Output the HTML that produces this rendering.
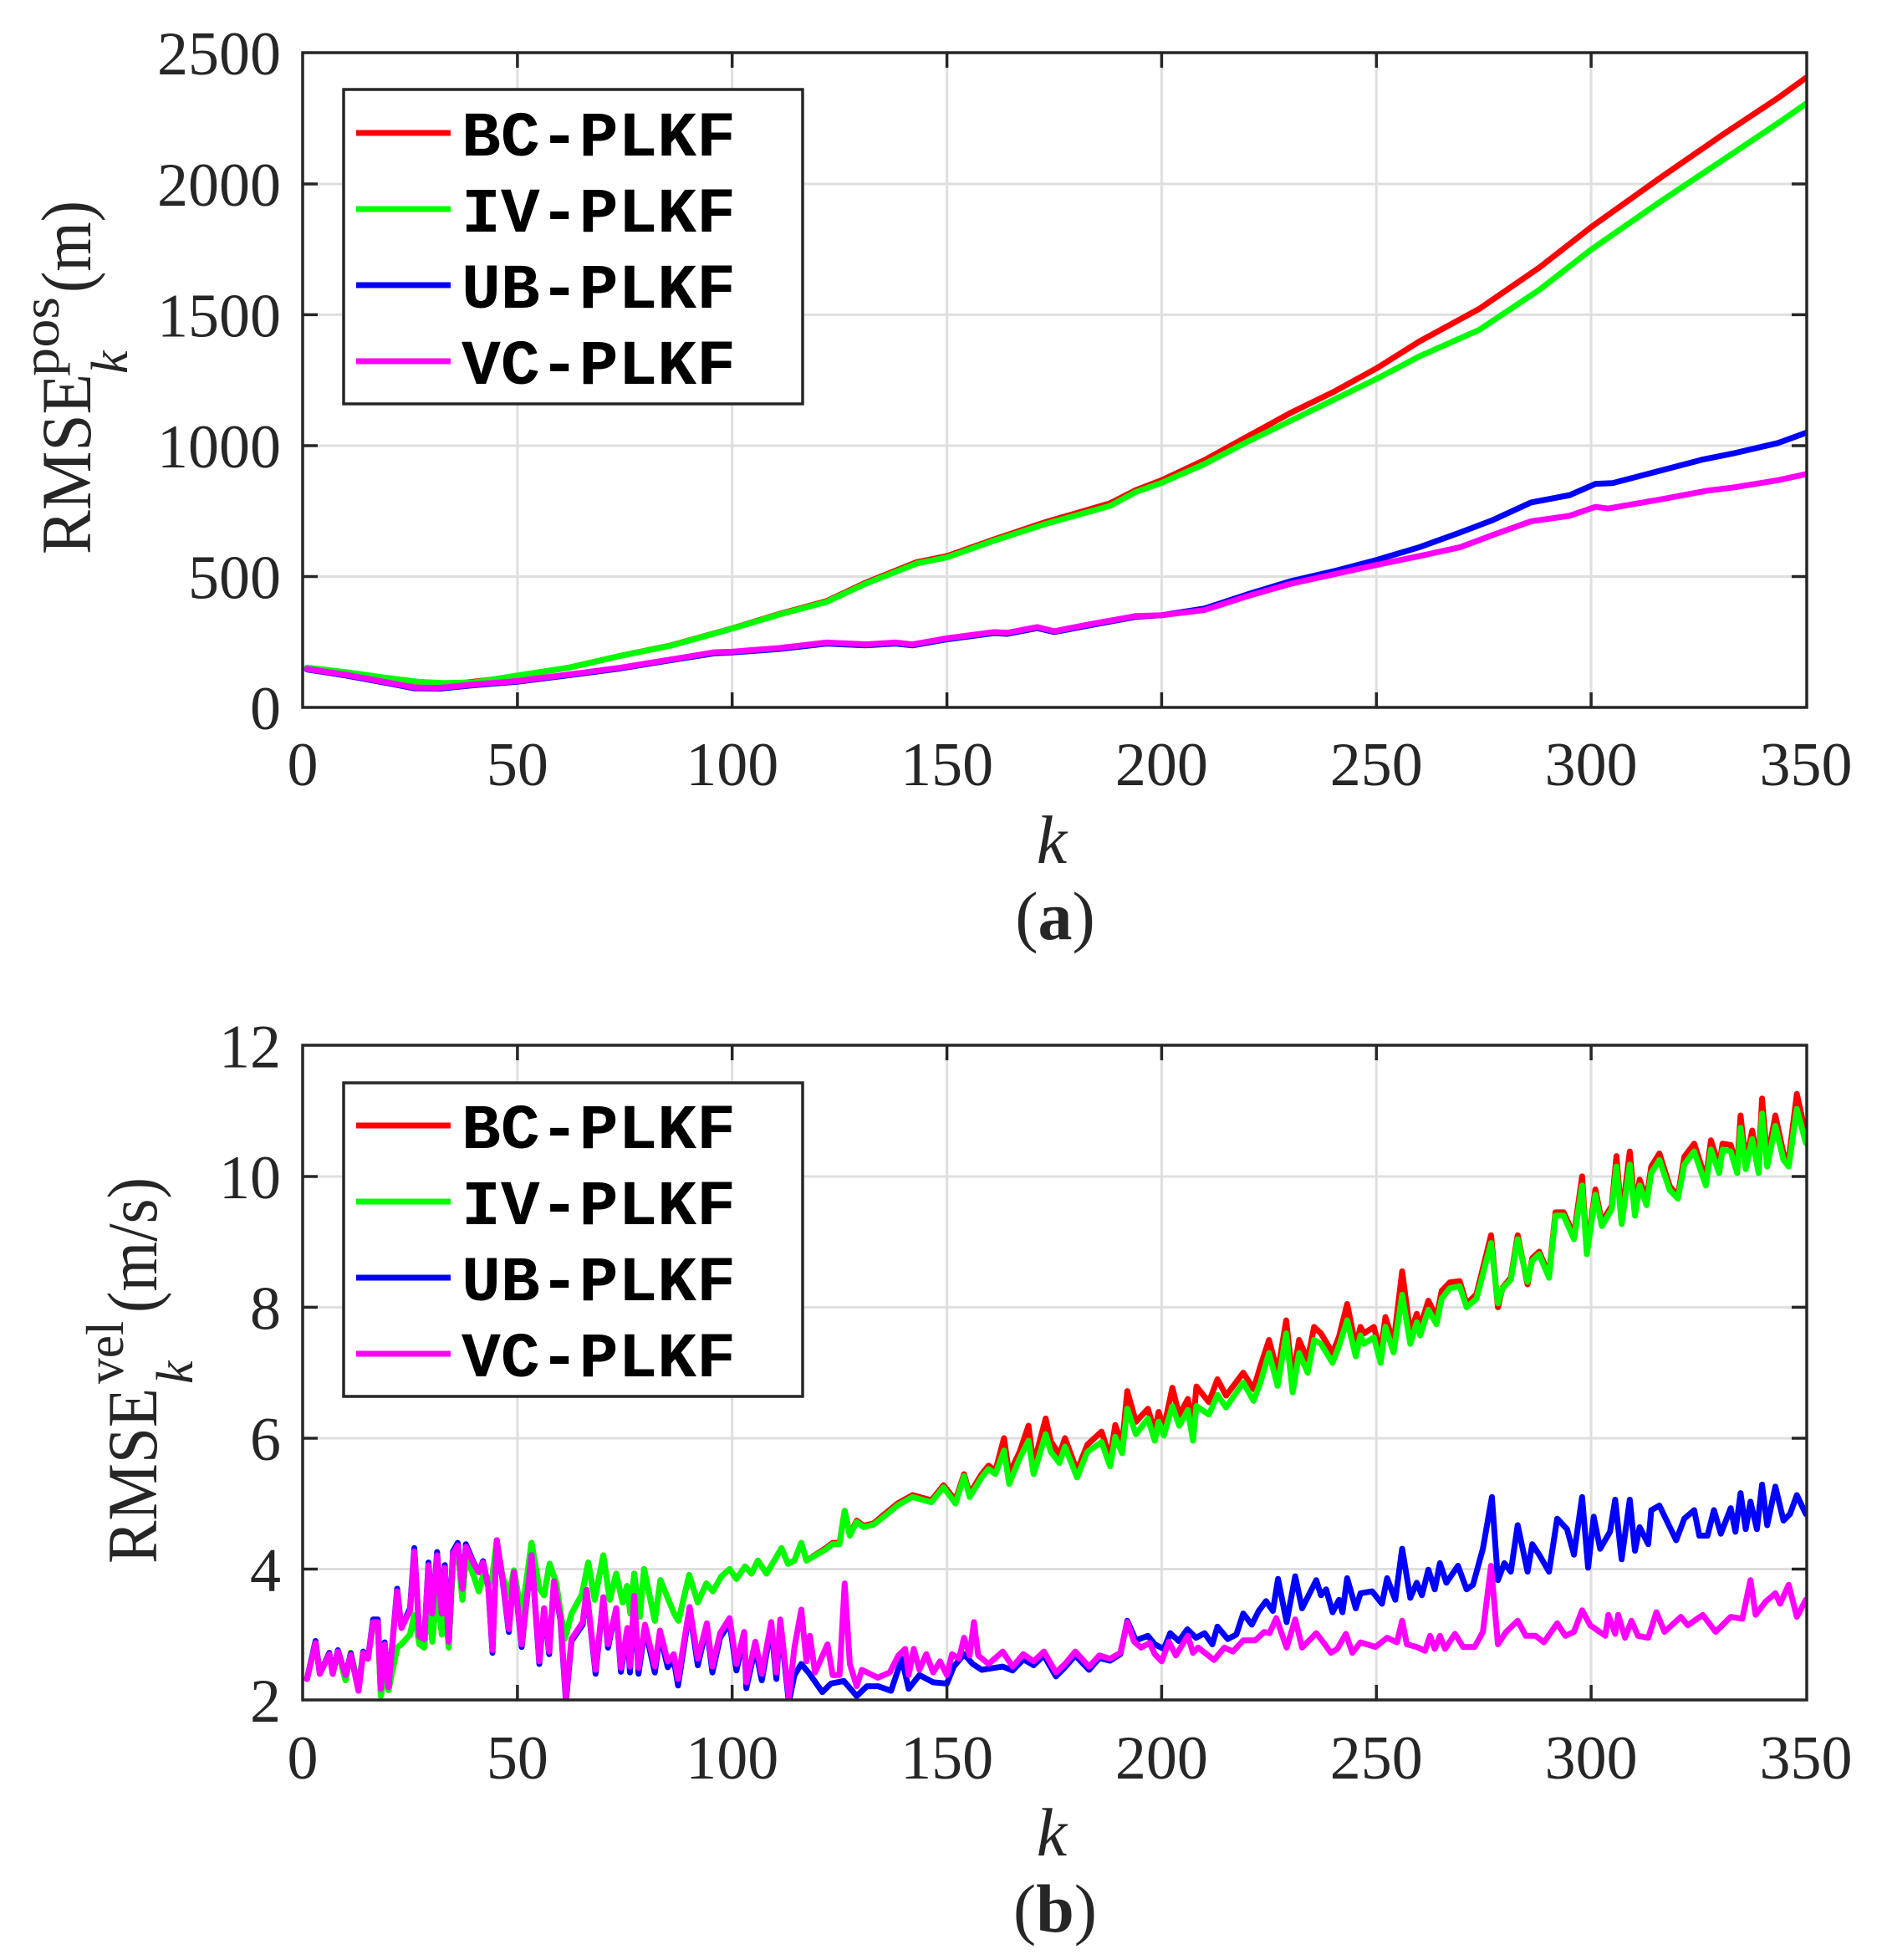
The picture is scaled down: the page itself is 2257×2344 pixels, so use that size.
<!DOCTYPE html>
<html><head><meta charset="utf-8"><style>
html,body{margin:0;padding:0;background:#fff;}
svg{display:block;}
.tk{font-family:"Liberation Serif",serif;font-size:74px;fill:#262626;}
.lg{font-family:"Liberation Mono",monospace;font-weight:bold;font-size:76px;fill:#000;}
.lb{font-family:"Liberation Serif",serif;fill:#262626;}
.s{fill:none;stroke-width:7;stroke-linejoin:round;stroke-linecap:round;vector-effect:non-scaling-stroke;}
</style></head><body>
<svg width="2257" height="2344" viewBox="0 0 2257 2344" xmlns="http://www.w3.org/2000/svg">
<defs>
<clipPath id="c1"><rect x="362" y="63" width="1799" height="783"/></clipPath>
<clipPath id="c2"><rect x="362" y="1250" width="1799" height="783"/></clipPath>
</defs>
<rect width="2257" height="2344" fill="#fff"/>

<!-- ================= TOP PLOT ================= -->
<g stroke="#dfdfdf" stroke-width="3">
<line x1="618.9" y1="63" x2="618.9" y2="846"/><line x1="875.7" y1="63" x2="875.7" y2="846"/>
<line x1="1132.6" y1="63" x2="1132.6" y2="846"/><line x1="1389.4" y1="63" x2="1389.4" y2="846"/>
<line x1="1646.3" y1="63" x2="1646.3" y2="846"/><line x1="1903.1" y1="63" x2="1903.1" y2="846"/>
<line x1="362" y1="689.5" x2="2161" y2="689.5"/><line x1="362" y1="533" x2="2161" y2="533"/>
<line x1="362" y1="376.4" x2="2161" y2="376.4"/><line x1="362" y1="220" x2="2161" y2="220"/>
</g>
<g clip-path="url(#c1)">
<g transform="translate(362,846) scale(5.137,-0.31304)">
<polyline class="s" stroke="#ff0000" points="1,150 10,133 20,110 27,97 33,92 38,95 45,108 50,121 62,152 74,197 86,238 100,302 111,357 122,406 131,476 143,555 150,578 161,642 173,708 188,780 194,830 200,868 210,945 220,1035 230,1125 240,1205 250,1295 260,1398 274,1523 288,1681 300,1835 316,2022 330,2181 343.5,2328 350,2405"/>
<polyline class="s" stroke="#00ff00" points="1,152 10,135 20,112 27,98 33,93 40,96 50,122 62,152 74,197 86,237 100,301 111,355 122,403 131,472 143,550 150,573 161,637 173,701 188,770 194,823 200,858 210,930 220,1015 230,1095 240,1175 250,1255 260,1341 274,1443 288,1596 300,1749 316,1931 330,2084 343.5,2232 350,2306"/>
<polyline class="s" stroke="#0000ff" points="1,145 10,122 20,92 26,73 32,72 40,85 50,98 62,123 74,149 86,181 96,207 100,210 111,223 122,244 131,237 138,244 142,237 150,260 161,284 164,281 171,303 175,288 183,313 194,346 200,352 210,378 220,432 230,482 240,520 250,563 260,612 268.8,664 277,715 286,783 295,811 301,854 305,857 316,904 326,947 333,970 343.5,1010 350,1049"/>
<polyline class="s" stroke="#ff00ff" points="1,147 10,125 20,95 26,76 32,75 40,88 50,101 62,126 74,152 86,184 96,211 100,213 111,227 122,248 131,241 138,248 142,241 150,264 161,288 164,285 171,307 175,291 183,317 194,349 200,352 210,372 220,425 230,472 240,508 250,544 260,578 269.5,612 277,658 286,711 295,732 301,766 304,760 316,794 327,828 333,840 343.5,868 350,891"/>
</g>
</g>
<g stroke="#262626" stroke-width="3.5" fill="none">
<rect x="362" y="63" width="1799" height="783"/>
<path d="M618.9,846v-18M875.7,846v-18M1132.6,846v-18M1389.4,846v-18M1646.3,846v-18M1903.1,846v-18
M618.9,63v18M875.7,63v18M1132.6,63v18M1389.4,63v18M1646.3,63v18M1903.1,63v18
M362,689.5h18M362,533h18M362,376.4h18M362,220h18
M2161,689.5h-18M2161,533h-18M2161,376.4h-18M2161,220h-18"/>
</g>
<!-- top legend -->
<rect x="411" y="107" width="549" height="376" fill="#fff" stroke="#262626" stroke-width="3.5"/>
<g stroke-width="7">
<line x1="426" y1="159" x2="539" y2="159" stroke="#ff0000"/>
<line x1="426" y1="250" x2="539" y2="250" stroke="#00ff00"/>
<line x1="426" y1="341" x2="539" y2="341" stroke="#0000ff"/>
<line x1="426" y1="432" x2="539" y2="432" stroke="#ff00ff"/>
</g>
<text class="lg" x="552" y="186" textLength="328" lengthAdjust="spacingAndGlyphs">BC-PLKF</text>
<text class="lg" x="552" y="277" textLength="328" lengthAdjust="spacingAndGlyphs">IV-PLKF</text>
<text class="lg" x="552" y="368" textLength="328" lengthAdjust="spacingAndGlyphs">UB-PLKF</text>
<text class="lg" x="552" y="459" textLength="328" lengthAdjust="spacingAndGlyphs">VC-PLKF</text>
<!-- top tick labels -->
<g class="tk" text-anchor="end">
<text x="336" y="872">0</text><text x="336" y="715.5">500</text><text x="336" y="559">1000</text>
<text x="336" y="402.4">1500</text><text x="336" y="246">2000</text><text x="336" y="89">2500</text>
</g>
<g class="tk" text-anchor="middle">
<text x="362" y="939">0</text><text x="618.9" y="939">50</text><text x="875.7" y="939">100</text>
<text x="1132.6" y="939">150</text><text x="1389.4" y="939">200</text><text x="1646.3" y="939">250</text>
<text x="1903.1" y="939">300</text><text x="2160" y="939">350</text>
</g>
<!-- top labels -->
<text class="lb" font-size="85" transform="translate(108,663) rotate(-90)" textLength="216" lengthAdjust="spacingAndGlyphs">RMSE</text>
<text class="lb" font-size="64" transform="translate(70,450) rotate(-90)" textLength="95" lengthAdjust="spacingAndGlyphs">pos</text>
<text class="lb" font-size="62" font-style="italic" transform="translate(152,447) rotate(-90)">k</text>
<text class="lb" font-size="85" transform="translate(108,350) rotate(-90)" textLength="110" lengthAdjust="spacingAndGlyphs">(m)</text>
<text class="lb" font-size="82" font-style="italic" x="1258" y="1032" text-anchor="middle">k</text>
<text class="lb" font-size="82" x="1262" y="1123" text-anchor="middle">(<tspan font-weight="bold">a</tspan>)</text>

<!-- ================= BOTTOM PLOT ================= -->
<g stroke="#dfdfdf" stroke-width="3">
<line x1="618.9" y1="1250" x2="618.9" y2="2033"/><line x1="875.7" y1="1250" x2="875.7" y2="2033"/>
<line x1="1132.6" y1="1250" x2="1132.6" y2="2033"/><line x1="1389.4" y1="1250" x2="1389.4" y2="2033"/>
<line x1="1646.3" y1="1250" x2="1646.3" y2="2033"/><line x1="1903.1" y1="1250" x2="1903.1" y2="2033"/>
<line x1="362" y1="1876.5" x2="2161" y2="1876.5"/><line x1="362" y1="1720" x2="2161" y2="1720"/>
<line x1="362" y1="1563.4" x2="2161" y2="1563.4"/><line x1="362" y1="1407" x2="2161" y2="1407"/>
</g>
<g clip-path="url(#c2)">
<g transform="translate(362,2033) scale(5.137,-78.27) translate(0,-2)">
<polyline class="s" stroke="#ff0000" points="1,2.32 3,2.87 4,2.40 6.2,2.70 7,2.40 8.2,2.74 10,2.30 11.2,2.72 13,2.20 14.1,2.72 15.2,2.63 16.4,3.15 17.5,3.15 18.2,2.06 19.1,2.40 20,2.15 22,2.80 23,2.85 25,3.0 26,3.30 27.2,2.85 28.3,2.80 29.3,3.55 30.2,2.89 31.3,3.7 32.4,3.0 33.1,3.6 34,2.80 35,4.1 36.1,4.3 37.2,3.53 38,4.2 39.8,3.9 41,3.66 42,3.9 43.2,3.75 44.2,3.9 45.2,4.44 46.5,3.9 48,3.6 49.2,3.98 51,3.3 53.3,4.4 55.1,3.7 56.2,3.6 57.5,4.08 59,3.8 61,2.93 62.6,3.32 65,3.61 66.5,4.1 68,3.53 70,4.21 71.5,3.53 73,3.93 74.5,3.49 75.5,3.74 76.3,3.32 77.2,3.93 78.5,3.27 79.5,4.0 82,3.21 83.3,3.83 86.5,3.32 87.5,3.21 90,3.91 92,3.49 94,3.78 95.5,3.66 97.5,3.89 99.4,4.0 101,3.85 103,4.04 104.5,3.93 106,4.13 108,3.93 110,4.15 111.5,4.32 113,4.08 114.5,4.13 116.1,4.40 117.3,4.13 121.8,4.32 123.4,4.40 125,4.40 126.2,4.89 127.4,4.53 129,4.74 130.6,4.66 133,4.70 135.5,4.84 138.7,5.01 142,5.13 146.4,5.05 149.2,5.28 152,5.05 154,5.45 155.3,5.15 158.1,5.45 159.7,5.58 161.3,5.5 163.3,6.0 164.5,5.45 167,5.8 169,6.19 170.2,5.6 173,6.30 174.2,5.95 176.2,5.75 177.5,6.0 180.3,5.5 182.7,5.9 186,6.1 188,5.7 189.2,6.2 190.8,5.9 192,6.72 194,6.25 196.8,6.45 198.4,6.1 199.3,6.4 200.5,6.15 202.5,6.77 204.1,6.35 206.1,6.6 207.3,6.2 208.1,6.79 211,6.55 213,6.9 215,6.65 219,7.0 221.4,6.75 223,7.1 225,7.5 227,7.0 229,7.8 230.5,6.9 232,7.5 234,7.2 235.5,7.7 237.1,7.6 239.8,7.3 241.3,7.55 243.2,8.05 245.2,7.4 246.3,7.7 247.1,7.6 249.4,7.7 251,7.3 252.1,7.85 254,7.45 256,8.55 257.9,7.6 259.4,7.9 260.2,7.7 262.1,8.1 264,7.85 265.2,8.25 267.1,8.38 269.4,8.4 271,8.05 273.3,8.2 276.7,9.1 278.3,8.0 279.4,8.3 281.3,8.45 282.9,9.1 285.2,8.35 286.3,8.75 287.9,8.85 290.2,8.5 291.7,9.45 293.6,9.45 296,9.1 297.9,10.0 299,8.85 301,9.8 302.5,9.3 304.8,9.55 305.9,10.31 307.1,9.35 309,10.38 310.2,9.5 311.3,9.95 312.9,9.65 314,10.15 315.9,10.35 318.3,9.85 320.2,9.7 321.7,10.3 324,10.5 326.7,9.95 327.9,10.55 329.8,10.15 330.6,10.5 332.5,10.48 334,10.15 334.8,10.93 336,10.2 337.5,10.7 339,10.15 339.8,11.19 341,10.25 342.9,10.93 344.8,10.35 346,10.25 347.9,11.26 350,10.64"/>
<polyline class="s" stroke="#00ff00" points="1,2.32 3,2.87 4,2.40 6.2,2.70 7,2.40 8.2,2.74 10,2.30 11.2,2.72 13,2.20 14.1,2.72 15.2,2.63 16.4,3.15 17.5,3.15 18.2,2.06 19.1,2.40 20,2.15 22,2.80 23,2.85 25,3.0 26,3.30 27.2,2.85 28.3,2.80 29.3,3.55 30.2,2.89 31.3,3.7 32.4,3.0 33.1,3.6 34,2.80 35,4.1 36.1,4.3 37.2,3.53 38,4.2 39.8,3.9 41,3.66 42,3.9 43.2,3.75 44.2,3.9 45.2,4.44 46.5,3.9 48,3.6 49.2,3.98 51,3.3 53.3,4.4 55.1,3.7 56.2,3.6 57.5,4.08 59,3.8 61,2.93 62.6,3.32 65,3.61 66.5,4.1 68,3.53 70,4.21 71.5,3.53 73,3.93 74.5,3.49 75.5,3.74 76.3,3.32 77.2,3.93 78.5,3.27 79.5,4.0 82,3.21 83.3,3.83 86.5,3.32 87.5,3.21 90,3.91 92,3.49 94,3.78 95.5,3.66 97.5,3.89 99.4,4.0 101,3.85 103,4.04 104.5,3.93 106,4.13 108,3.93 110,4.15 111.5,4.32 113,4.08 114.5,4.13 116.1,4.40 117.3,4.13 121.8,4.30 123.4,4.38 125,4.38 126.2,4.89 127.4,4.51 129,4.72 130.6,4.64 133,4.68 135.5,4.81 138.7,4.98 142,5.10 146.4,5.02 149.2,5.25 152,5.0 154,5.42 155.3,5.10 158.1,5.40 159.7,5.53 161.3,5.45 163.3,5.81 164.5,5.30 167,5.70 169,5.96 170.2,5.45 173,6.06 174.2,5.79 176.2,5.62 177.5,5.87 180.3,5.40 182.7,5.79 186,5.94 188,5.57 189.2,6.02 190.8,5.77 192,6.45 194,6.06 196.8,6.30 198.4,5.96 199.3,6.25 200.5,6.04 202.5,6.49 204.1,6.19 206.1,6.43 207.3,5.96 208.1,6.49 211,6.36 213,6.66 215,6.47 219,6.85 221.4,6.57 223,6.85 225,7.3 227,6.8 229,7.6 230.5,6.7 232,7.3 234,7.0 235.5,7.5 237.1,7.44 239.8,7.15 241.3,7.41 243.2,7.80 245.2,7.25 246.3,7.57 247.1,7.44 249.4,7.54 251,7.15 252.1,7.70 254,7.31 256,8.19 257.9,7.44 259.4,7.77 260.2,7.57 262.1,7.96 264,7.74 265.2,8.13 267.1,8.29 269.4,8.32 271,8.0 273.3,8.13 276.7,8.98 278.3,8.06 279.4,8.29 281.3,8.42 282.9,9.04 285.2,8.39 286.3,8.71 287.9,8.81 290.2,8.45 291.7,9.40 293.6,9.40 296,9.04 297.9,9.86 299,8.81 301,9.72 302.5,9.24 304.8,9.50 305.9,10.15 307.1,9.27 309,10.18 310.2,9.40 311.3,9.86 312.9,9.56 314,10.05 315.9,10.25 318.3,9.79 320.2,9.66 321.7,10.18 324,10.38 326.7,9.86 327.9,10.41 329.8,10.05 330.6,10.41 332.5,10.38 334,10.05 334.8,10.74 336,10.11 337.5,10.57 339,10.05 339.8,10.96 341,10.15 342.9,10.77 344.8,10.25 346,10.15 347.9,11.03 350,10.51"/>
<polyline class="s" stroke="#0000ff" points="1,2.32 3,2.90 4,2.40 6.2,2.72 7,2.40 8.2,2.76 10,2.38 11.2,2.71 13,2.14 14.1,2.74 15.2,2.63 16.4,3.23 17.5,3.23 18.2,2.17 19.1,2.88 20,2.20 22,3.70 23,3.10 25,3.40 26,4.32 27.2,2.97 28.3,2.93 29.3,4.10 30.2,3.32 31.3,4.26 32.4,3.32 33.1,4.06 34,2.89 35,4.27 36.1,4.40 37.2,3.70 38,4.38 39.8,4.10 41,3.95 42,4.12 43.2,3.74 44.2,2.72 45.2,4.44 46.5,3.85 48,3.04 49.2,3.95 51,2.81 53.3,4.21 55.1,2.55 56.2,3.40 57.4,2.70 58.5,3.81 60,3.23 61.3,1.98 62.6,2.90 65.2,3.15 66.1,3.68 68.2,2.40 70,3.57 71.1,2.80 73,3.40 74.1,2.43 75.6,3.05 76.2,2.42 77.2,3.55 78.2,2.40 79.7,3.10 82,2.42 83.2,3.0 85,2.50 86.4,2.62 87.4,2.22 90.1,3.38 92,2.53 94.1,3.12 95.4,2.42 97.2,2.95 99.4,3.18 101,2.45 102.8,2.98 103.3,2.18 105.4,2.80 106.9,2.30 109.1,3.12 110.3,2.32 111.2,3.18 113.2,1.96 114.5,2.38 116.1,2.55 118,2.40 121,2.12 123,2.25 126,2.29 129,2.06 131.4,2.21 134,2.21 137,2.14 139.5,2.63 141.1,2.17 143.6,2.38 146.8,2.27 150,2.25 151.6,2.51 154,2.70 156,2.55 158.1,2.46 163,2.51 165.3,2.45 167.8,2.62 170.2,2.53 172.6,2.68 175.4,2.36 177.5,2.50 179.9,2.68 183.1,2.46 185.5,2.64 188,2.60 190.4,2.70 192,3.21 194,2.91 196.8,2.98 198.4,2.85 200.5,2.78 202,3.02 204,2.90 206,3.08 208,2.95 210,3.02 211.8,2.85 213,3.12 215.4,2.93 217.4,3.00 219,3.32 221,3.15 222.6,3.36 224.3,3.51 225.9,3.36 227.1,3.85 229.1,3.19 231.1,3.89 232.7,3.40 236,3.83 237.1,3.60 238.3,3.69 239.8,3.34 241.3,3.53 242.1,3.34 243.2,3.86 245.2,3.40 246.3,3.63 249,3.66 251.3,3.47 252.5,3.86 254.4,3.53 256,4.31 257.9,3.56 259.4,3.79 260.6,3.60 262.1,3.99 263.6,3.69 264.8,4.09 266.3,3.79 269,4.05 271,3.69 272.5,3.76 274.8,4.31 276.9,5.10 278.3,3.83 279.8,4.09 281.3,3.96 282.9,4.67 285.2,3.96 286.3,4.38 287.9,4.22 290.2,3.96 292.1,4.77 294.4,4.61 296,4.22 297.9,5.10 299.3,4.02 300.6,4.80 302.1,4.31 304.4,4.57 305.6,5.06 307.1,4.15 309,5.06 310.2,4.28 311.3,4.64 313.3,4.38 314,4.90 315.9,4.97 319.8,4.44 321.7,4.77 324,4.90 325.2,4.51 327.1,4.51 328.6,4.90 330.2,4.54 332.5,4.93 333.6,4.57 334.8,5.16 336,4.61 337.1,5.03 338.6,4.61 339.8,5.29 341,4.67 342.9,5.26 344.8,4.74 346.3,4.84 347.9,5.13 350,4.84"/>
<polyline class="s" stroke="#ff00ff" points="1,2.32 3,2.87 4,2.40 6.2,2.70 7,2.40 8.2,2.74 10,2.38 11.2,2.69 13,2.14 14.1,2.72 15.2,2.63 16.4,3.19 17.5,3.19 18.2,2.17 19.1,2.85 20,2.20 22,3.66 23,3.10 25,3.36 26,4.27 27.2,2.97 28.3,2.93 29.3,4.06 30.2,3.32 31.3,4.21 32.4,3.32 33.1,4.02 34,2.89 35,4.23 36.1,4.36 37.2,3.70 38,4.34 39.8,4.08 41,3.95 42,4.10 43.2,3.74 44.2,2.76 45.2,4.44 46.5,3.87 48,3.08 49.2,3.95 51,2.85 53.3,4.21 55.1,2.59 56.2,3.40 57.4,2.74 58.5,3.81 60,3.27 61.3,2.04 62.6,2.93 65.2,3.19 66.1,3.68 68.2,2.46 70,3.57 71.1,2.85 73,3.40 74.1,2.49 75.6,3.10 76.2,2.51 77.2,3.59 78.2,2.49 79.7,3.15 82,2.51 83.2,3.06 85,2.59 86.4,2.70 87.4,2.32 90.1,3.42 92,2.63 94.1,3.17 95.4,2.51 97.2,3.02 99.4,3.25 101,2.55 102.8,3.04 103.3,2.27 105.4,2.89 106.9,2.40 109.1,3.19 110.3,2.42 111.2,3.23 113.2,2.04 114.5,2.80 116.1,3.38 117.3,2.59 118.1,2.98 119.3,2.42 122.2,2.85 123.4,2.38 125,2.38 126.2,3.78 127.4,2.55 129,2.21 130.2,2.46 133.9,2.34 136.7,2.42 138.7,2.68 140.3,2.78 141.1,2.38 142.3,2.78 143.6,2.46 145.2,2.70 146.8,2.42 148.4,2.59 150,2.38 151.2,2.70 152.8,2.63 154,2.95 155.3,2.68 156.3,3.19 157.3,2.68 159.7,2.55 163,2.74 165.3,2.51 167.8,2.70 170.2,2.59 172.6,2.74 175.4,2.42 177.5,2.55 179.9,2.74 183.1,2.51 185.5,2.68 188,2.63 190.4,2.72 192,3.19 193.6,2.89 195.2,2.80 197.2,2.87 198.4,2.70 200,2.59 201.7,2.89 203.3,2.68 206.1,2.98 207.3,2.72 208.5,2.80 212.2,2.61 214.6,2.80 216.6,2.74 219,2.91 221.8,2.91 223.9,3.04 225.1,3.02 226.7,3.25 229.1,2.80 231.1,3.23 232.7,2.80 236,3.02 238,2.85 239.4,2.72 240.9,2.78 242.9,3.01 244.4,2.72 246.3,2.88 249.8,2.81 252.5,2.95 254.8,2.88 256,3.21 257.1,2.85 259.4,2.81 261.3,2.75 262.5,2.98 263.6,2.78 264.8,2.98 266,2.78 268.3,3.01 270.2,2.81 272.9,2.81 274.8,3.04 276.7,4.05 278.3,2.85 280.2,3.04 282.9,3.21 284.8,2.98 287.1,2.98 289,2.88 292.1,3.17 294,2.98 296,3.04 297.9,3.37 299.8,3.14 303.3,2.98 304,3.30 305.6,3.01 306.3,3.30 307.9,2.95 309.4,3.21 310.9,2.98 313.3,2.95 315.2,3.34 317.1,3.04 320.9,3.27 322.5,3.14 326,3.30 329,3.04 332.5,3.27 335.2,3.24 337.1,3.83 338.3,3.30 340.6,3.50 342.9,3.63 344,3.47 346,3.76 347.9,3.27 350,3.53"/>
</g>
</g>
<g stroke="#262626" stroke-width="3.5" fill="none">
<rect x="362" y="1250" width="1799" height="783"/>
<path d="M618.9,2033v-18M875.7,2033v-18M1132.6,2033v-18M1389.4,2033v-18M1646.3,2033v-18M1903.1,2033v-18
M618.9,1250v18M875.7,1250v18M1132.6,1250v18M1389.4,1250v18M1646.3,1250v18M1903.1,1250v18
M362,1876.5h18M362,1720h18M362,1563.4h18M362,1407h18
M2161,1876.5h-18M2161,1720h-18M2161,1563.4h-18M2161,1407h-18"/>
</g>
<!-- bottom legend -->
<rect x="411" y="1295" width="549" height="375" fill="#fff" stroke="#262626" stroke-width="3.5"/>
<g stroke-width="7">
<line x1="426" y1="1346" x2="539" y2="1346" stroke="#ff0000"/>
<line x1="426" y1="1437" x2="539" y2="1437" stroke="#00ff00"/>
<line x1="426" y1="1528" x2="539" y2="1528" stroke="#0000ff"/>
<line x1="426" y1="1619" x2="539" y2="1619" stroke="#ff00ff"/>
</g>
<text class="lg" x="552" y="1373" textLength="328" lengthAdjust="spacingAndGlyphs">BC-PLKF</text>
<text class="lg" x="552" y="1464" textLength="328" lengthAdjust="spacingAndGlyphs">IV-PLKF</text>
<text class="lg" x="552" y="1555" textLength="328" lengthAdjust="spacingAndGlyphs">UB-PLKF</text>
<text class="lg" x="552" y="1646" textLength="328" lengthAdjust="spacingAndGlyphs">VC-PLKF</text>
<!-- bottom tick labels -->
<g class="tk" text-anchor="end">
<text x="336" y="2059">2</text><text x="336" y="1902.5">4</text><text x="336" y="1746">6</text>
<text x="336" y="1589.4">8</text><text x="336" y="1433">10</text><text x="336" y="1276.5">12</text>
</g>
<g class="tk" text-anchor="middle">
<text x="362" y="2127">0</text><text x="618.9" y="2127">50</text><text x="875.7" y="2127">100</text>
<text x="1132.6" y="2127">150</text><text x="1389.4" y="2127">200</text><text x="1646.3" y="2127">250</text>
<text x="1903.1" y="2127">300</text><text x="2160" y="2127">350</text>
</g>
<!-- bottom labels -->
<text class="lb" font-size="85" transform="translate(187,1870) rotate(-90)" textLength="210" lengthAdjust="spacingAndGlyphs">RMSE</text>
<text class="lb" font-size="64" transform="translate(147,1655) rotate(-90)" textLength="75" lengthAdjust="spacingAndGlyphs">vel</text>
<text class="lb" font-size="62" font-style="italic" transform="translate(230,1655) rotate(-90)">k</text>
<text class="lb" font-size="85" transform="translate(187,1570) rotate(-90)" textLength="162" lengthAdjust="spacingAndGlyphs">(m/s)</text>
<text class="lb" font-size="82" font-style="italic" x="1258" y="2219" text-anchor="middle">k</text>
<text class="lb" font-size="82" x="1262" y="2310" text-anchor="middle">(<tspan font-weight="bold">b</tspan>)</text>
</svg>
</body></html>
